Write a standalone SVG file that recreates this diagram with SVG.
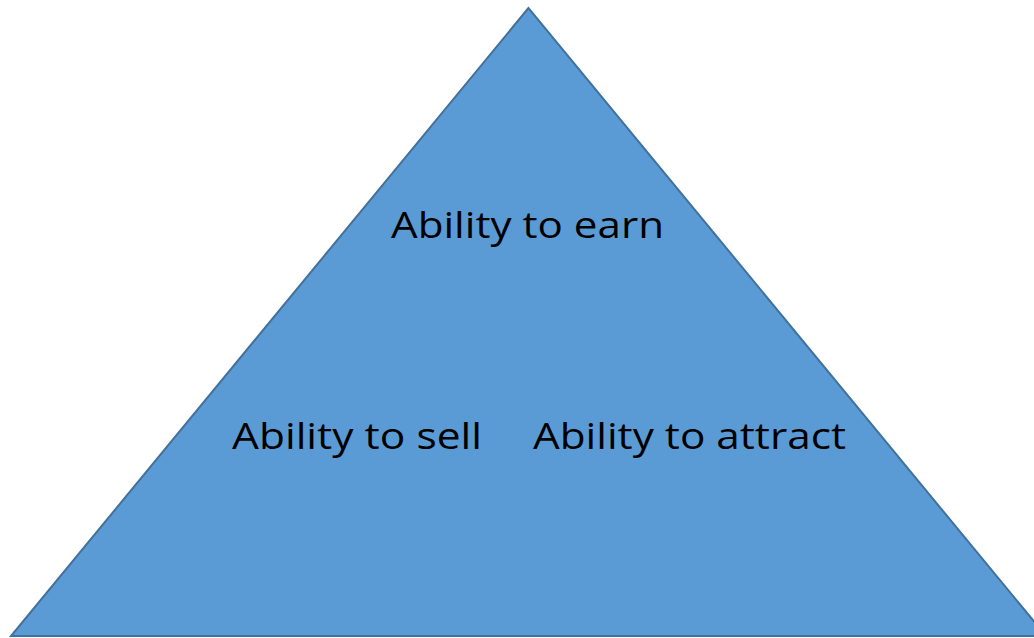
<svg xmlns="http://www.w3.org/2000/svg" width="1034" height="638" viewBox="0 0 1034 638">
<style>
.lbl{font-family:"Open Sans","Noto Sans","Liberation Sans",sans-serif;font-size:36px;fill:#000;}
</style>
<rect width="1034" height="638" fill="#fff"/>
<g id="pyramid">
<polygon points="528.5,8 11,636 1046,636" fill="#5B9BD5" stroke="#41719C" stroke-width="2"/>
</g>
<g id="earn"><text class="lbl" x="391" y="238" textLength="273" lengthAdjust="spacingAndGlyphs">Ability to earn</text></g>
<g id="sell"><text class="lbl" x="232" y="449" textLength="250" lengthAdjust="spacingAndGlyphs">Ability to sell</text></g>
<g id="attract"><text class="lbl" x="533" y="449" textLength="313" lengthAdjust="spacingAndGlyphs">Ability to attract</text></g>
<g id="connectors"></g>
</svg>
